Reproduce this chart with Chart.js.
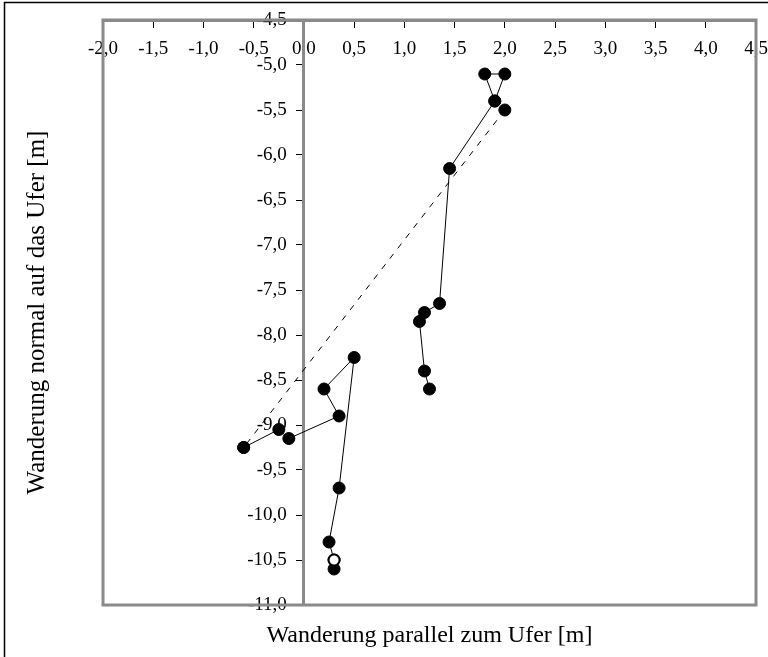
<!DOCTYPE html>
<html>
<head>
<meta charset="utf-8">
<script src="https://cdn.jsdelivr.net/npm/chart.js@4/dist/chart.umd.min.js"></script>
<style>
html,body{margin:0;padding:0;background:#fff;}
#wrap{width:768px;height:657px;position:relative;}
</style>
</head>
<body>
<div id="wrap"><canvas id="c" width="768" height="657"></canvas></div>
<script>
// ---- data ----
const xTickValues = [-2.0, -1.5, -1.0, -0.5, 0.0, 0.5, 1.0, 1.5, 2.0, 2.5, 3.0, 3.5, 4.0, 4.5];
const yTickValues = [-11.0, -10.5, -10.0, -9.5, -9.0, -8.5, -8.0, -7.5, -7.0, -6.5, -6.0, -5.5, -5.0, -4.5];

const upperTrackX = [1.9, 2.0, 1.8, 1.9, 1.45, 1.35, 1.2, 1.15, 1.2, 1.25];
const upperTrackY = [-5.4, -5.1, -5.1, -5.4, -6.15, -7.65, -7.75, -7.85, -8.4, -8.6];

const lowerTrackX = [-0.6, -0.25, -0.15, 0.35, 0.2, 0.5, 0.35, 0.25, 0.3];
const lowerTrackY = [-9.25, -9.05, -9.15, -8.9, -8.6, -8.25, -9.7, -10.3, -10.5];

const dashedX = [2.0, -0.6];
const dashedY = [-5.5, -9.25];

const lastPointX = [0.3];
const lastPointY = [-10.6];

const openPointX = [0.3];
const openPointY = [-10.5];

const xTitle = 'Wanderung parallel zum Ufer [m]';
const yTitle = 'Wanderung normal auf das Ufer [m]';

// ---- helpers ----
const toXY = (xs, ys) => xs.map((x, i) => ({x: x, y: ys[i]}));
const fmt = v => Number(v).toFixed(1).replace('.', ',');
const serif = 'Liberation Serif, Times New Roman, serif';
const axisGray = '#8a8a8a';
const noPad = s => { s.paddingLeft = 0; s.paddingRight = 0; s.paddingTop = 0; s.paddingBottom = 0; };

const framePlugin = {
  id: 'frame',
  beforeDatasetsDraw(chart) {
    const {ctx, chartArea: a} = chart;
    ctx.save();
    ctx.strokeStyle = axisGray;
    ctx.lineWidth = 3;
    ctx.strokeRect(a.left, a.top, a.right - a.left, a.bottom - a.top);
    ctx.strokeStyle = '#000';
    ctx.lineWidth = 1.5;
    ctx.beginPath();
    ctx.moveTo(4.5, 657);
    ctx.lineTo(4.5, 2.5);
    ctx.lineTo(768, 2.5);
    ctx.stroke();
    ctx.restore();
  }
};

const lineDs = (label, data, extra) => Object.assign({
  label: label,
  data: data,
  showLine: true,
  borderColor: '#000',
  borderWidth: 1,
  pointRadius: 6,
  pointBorderWidth: 1,
  pointBackgroundColor: '#000',
  pointBorderColor: '#000',
  tension: 0
}, extra || {});

new Chart(document.getElementById('c'), {
  type: 'scatter',
  data: {
    datasets: [
      lineDs('open', toXY(openPointX, openPointY), {showLine: false, pointRadius: 5.5, pointBorderWidth: 2, pointBackgroundColor: '#fff', order: 0}),
      lineDs('upper', toXY(upperTrackX, upperTrackY), {order: 2}),
      lineDs('lower', toXY(lowerTrackX, lowerTrackY), {order: 2}),
      lineDs('last', toXY(lastPointX, lastPointY), {showLine: false, order: 1}),
      lineDs('dashed', toXY(dashedX, dashedY), {borderDash: [6, 7], order: 3})
    ]
  },
  options: {
    responsive: false,
    animation: false,
    devicePixelRatio: 1,
    events: [],
    layout: {padding: {left: 4, right: 12, top: 20, bottom: 0}},
    plugins: {
      legend: {display: false},
      tooltip: {enabled: false},
      title: {
        display: true, text: xTitle, position: 'bottom', fullSize: false,
        color: '#000', font: {family: serif, size: 24, weight: 'normal'},
        padding: {top: 16.6, bottom: 6.6}
      },
      subtitle: {
        display: true, text: yTitle, position: 'left', fullSize: false,
        color: '#000', font: {family: serif, size: 25, weight: 'normal'},
        padding: {top: 18, bottom: 51}
      }
    },
    scales: {
      x: {
        type: 'linear', min: xTickValues[0], max: xTickValues[xTickValues.length - 1],
        position: {y: yTickValues[yTickValues.length - 1]},
        afterBuildTicks: s => { s.ticks = xTickValues.map(v => ({value: v})); },
        afterFit: noPad,
        ticks: {color: '#000', font: {family: serif, size: 19}, padding: 12, maxRotation: 0, autoSkip: false, callback: fmt},
        grid: {display: true, drawOnChartArea: false, drawTicks: true, tickLength: 6, tickColor: '#000', tickWidth: 1},
        border: {display: true, color: axisGray, width: 3}
      },
      y: {
        type: 'linear', min: yTickValues[0], max: yTickValues[yTickValues.length - 1],
        position: {x: 0},
        afterBuildTicks: s => { s.ticks = yTickValues.map(v => ({value: v})); },
        afterFit: noPad,
        ticks: {display: false},
        grid: {display: true, drawOnChartArea: false, drawTicks: true, tickLength: 6, tickColor: '#000', tickWidth: 1},
        border: {display: true, color: axisGray, width: 3}
      },
      yLabels: {
        type: 'linear', axis: 'y', min: yTickValues[0], max: yTickValues[yTickValues.length - 1],
        position: {x: -0.17},
        afterBuildTicks: s => { s.ticks = yTickValues.map(v => ({value: v})); },
        afterFit: noPad,
        ticks: {display: true, color: '#000', font: {family: serif, size: 19}, autoSkip: false, callback: fmt},
        grid: {display: false},
        border: {display: false}
      }
    }
  },
  plugins: [framePlugin]
});
</script>
</body>
</html>
